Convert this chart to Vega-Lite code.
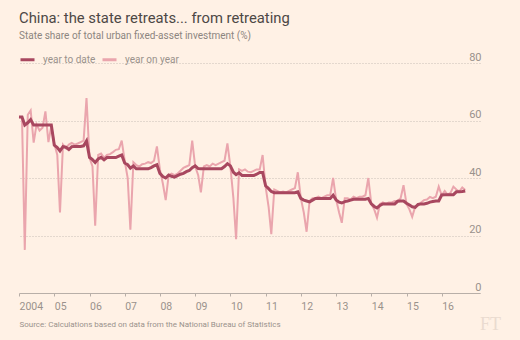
{
"$schema": "https://vega.github.io/schema/vega-lite/v6.json",
"autosize": "none",
"width": 461,
"height": 230,
"padding": {"left": 19, "top": 63, "right": 40, "bottom": 47},
"background": "#FFF1E5",
"config": {"view": {"stroke": null}, "font": "Roboto"},
"title": {"text": "China: the state retreats... from retreating", "subtitle": "State share of total urban fixed-asset investment (%)", "anchor": "start", "frame": "group", "font": "Roboto", "fontSize": 14.8, "fontWeight": "normal", "color": "#4d4845", "subtitleFont": "Roboto", "subtitleFontSize": 10, "subtitleColor": "#8c8580", "subtitlePadding": 5, "offset": 10},
"data": {"values": [
{"date":"2004-01-01","year to date":61.2,"year on year":61.2},
{"date":"2004-02-01","year to date":61.2,"year on year":61.0},
{"date":"2004-03-01","year to date":58.4,"year on year":15.0},
{"date":"2004-04-01","year to date":59.2,"year on year":62.0},
{"date":"2004-05-01","year to date":60.3,"year on year":63.5},
{"date":"2004-06-01","year to date":58.4,"year on year":52.3},
{"date":"2004-07-01","year to date":58.4,"year on year":58.6},
{"date":"2004-08-01","year to date":58.4,"year on year":56.5},
{"date":"2004-09-01","year to date":58.4,"year on year":57.5},
{"date":"2004-10-01","year to date":58.4,"year on year":63.2},
{"date":"2004-11-01","year to date":58.4,"year on year":52.5},
{"date":"2004-12-01","year to date":58.4,"year on year":58.0},
{"date":"2005-01-01","year to date":51.4,"year on year":52.0},
{"date":"2005-02-01","year to date":50.6,"year on year":48.0},
{"date":"2005-03-01","year to date":49.4,"year on year":28.0},
{"date":"2005-04-01","year to date":50.9,"year on year":51.6},
{"date":"2005-05-01","year to date":50.7,"year on year":50.4},
{"date":"2005-06-01","year to date":49.9,"year on year":51.6},
{"date":"2005-07-01","year to date":50.9,"year on year":52.2},
{"date":"2005-08-01","year to date":51.0,"year on year":51.6},
{"date":"2005-09-01","year to date":51.0,"year on year":52.0},
{"date":"2005-10-01","year to date":51.0,"year on year":52.5},
{"date":"2005-11-01","year to date":51.2,"year on year":53.0},
{"date":"2005-12-01","year to date":52.9,"year on year":67.8},
{"date":"2006-01-01","year to date":47.2,"year on year":47.0},
{"date":"2006-02-01","year to date":46.4,"year on year":44.0},
{"date":"2006-03-01","year to date":45.4,"year on year":23.4},
{"date":"2006-04-01","year to date":46.6,"year on year":48.0},
{"date":"2006-05-01","year to date":47.2,"year on year":48.5},
{"date":"2006-06-01","year to date":46.3,"year on year":47.0},
{"date":"2006-07-01","year to date":47.1,"year on year":48.0},
{"date":"2006-08-01","year to date":47.1,"year on year":48.3},
{"date":"2006-09-01","year to date":47.1,"year on year":49.0},
{"date":"2006-10-01","year to date":47.1,"year on year":49.8},
{"date":"2006-11-01","year to date":47.6,"year on year":50.0},
{"date":"2006-12-01","year to date":48.0,"year on year":53.0},
{"date":"2007-01-01","year to date":45.2,"year on year":46.0},
{"date":"2007-02-01","year to date":44.6,"year on year":40.0},
{"date":"2007-03-01","year to date":43.4,"year on year":22.0},
{"date":"2007-04-01","year to date":44.2,"year on year":45.5},
{"date":"2007-05-01","year to date":43.2,"year on year":44.5},
{"date":"2007-06-01","year to date":43.2,"year on year":44.0},
{"date":"2007-07-01","year to date":43.2,"year on year":44.8},
{"date":"2007-08-01","year to date":43.2,"year on year":45.0},
{"date":"2007-09-01","year to date":43.2,"year on year":45.5},
{"date":"2007-10-01","year to date":43.6,"year on year":45.2},
{"date":"2007-11-01","year to date":44.2,"year on year":46.0},
{"date":"2007-12-01","year to date":44.6,"year on year":51.0},
{"date":"2008-01-01","year to date":41.6,"year on year":43.0},
{"date":"2008-02-01","year to date":40.5,"year on year":38.0},
{"date":"2008-03-01","year to date":40.0,"year on year":32.3},
{"date":"2008-04-01","year to date":41.0,"year on year":41.0},
{"date":"2008-05-01","year to date":40.6,"year on year":41.5},
{"date":"2008-06-01","year to date":40.3,"year on year":41.0},
{"date":"2008-07-01","year to date":40.8,"year on year":41.5},
{"date":"2008-08-01","year to date":41.3,"year on year":42.5},
{"date":"2008-09-01","year to date":41.6,"year on year":43.5},
{"date":"2008-10-01","year to date":42.2,"year on year":44.0},
{"date":"2008-11-01","year to date":42.6,"year on year":44.5},
{"date":"2008-12-01","year to date":43.6,"year on year":53.0},
{"date":"2009-01-01","year to date":44.2,"year on year":44.0},
{"date":"2009-02-01","year to date":43.3,"year on year":41.0},
{"date":"2009-03-01","year to date":43.2,"year on year":35.0},
{"date":"2009-04-01","year to date":43.2,"year on year":44.0},
{"date":"2009-05-01","year to date":43.2,"year on year":44.5},
{"date":"2009-06-01","year to date":43.2,"year on year":44.0},
{"date":"2009-07-01","year to date":43.2,"year on year":45.0},
{"date":"2009-08-01","year to date":43.2,"year on year":44.5},
{"date":"2009-09-01","year to date":43.2,"year on year":45.0},
{"date":"2009-10-01","year to date":43.2,"year on year":45.5},
{"date":"2009-11-01","year to date":44.0,"year on year":46.0},
{"date":"2009-12-01","year to date":45.0,"year on year":52.0},
{"date":"2010-01-01","year to date":44.2,"year on year":44.0},
{"date":"2010-02-01","year to date":42.0,"year on year":33.0},
{"date":"2010-03-01","year to date":41.2,"year on year":18.7},
{"date":"2010-04-01","year to date":41.8,"year on year":43.0},
{"date":"2010-05-01","year to date":40.9,"year on year":42.5},
{"date":"2010-06-01","year to date":40.9,"year on year":43.0},
{"date":"2010-07-01","year to date":40.9,"year on year":42.2},
{"date":"2010-08-01","year to date":40.9,"year on year":42.0},
{"date":"2010-09-01","year to date":40.9,"year on year":42.5},
{"date":"2010-10-01","year to date":41.3,"year on year":43.0},
{"date":"2010-11-01","year to date":41.9,"year on year":43.0},
{"date":"2010-12-01","year to date":41.9,"year on year":48.0},
{"date":"2011-01-01","year to date":37.3,"year on year":37.0},
{"date":"2011-02-01","year to date":36.3,"year on year":30.0},
{"date":"2011-03-01","year to date":35.3,"year on year":20.5},
{"date":"2011-04-01","year to date":34.9,"year on year":36.0},
{"date":"2011-05-01","year to date":34.9,"year on year":35.5},
{"date":"2011-06-01","year to date":34.9,"year on year":35.0},
{"date":"2011-07-01","year to date":34.9,"year on year":35.3},
{"date":"2011-08-01","year to date":34.9,"year on year":35.0},
{"date":"2011-09-01","year to date":34.9,"year on year":35.5},
{"date":"2011-10-01","year to date":34.9,"year on year":36.0},
{"date":"2011-11-01","year to date":34.9,"year on year":36.5},
{"date":"2011-12-01","year to date":35.2,"year on year":42.0},
{"date":"2012-01-01","year to date":32.9,"year on year":33.0},
{"date":"2012-02-01","year to date":32.3,"year on year":28.0},
{"date":"2012-03-01","year to date":32.0,"year on year":21.3},
{"date":"2012-04-01","year to date":31.7,"year on year":32.0},
{"date":"2012-05-01","year to date":32.3,"year on year":33.0},
{"date":"2012-06-01","year to date":32.9,"year on year":33.0},
{"date":"2012-07-01","year to date":32.9,"year on year":33.5},
{"date":"2012-08-01","year to date":32.9,"year on year":33.0},
{"date":"2012-09-01","year to date":32.9,"year on year":33.5},
{"date":"2012-10-01","year to date":32.9,"year on year":34.0},
{"date":"2012-11-01","year to date":32.9,"year on year":34.0},
{"date":"2012-12-01","year to date":34.0,"year on year":40.0},
{"date":"2013-01-01","year to date":32.4,"year on year":32.5},
{"date":"2013-02-01","year to date":31.6,"year on year":28.0},
{"date":"2013-03-01","year to date":31.3,"year on year":24.4},
{"date":"2013-04-01","year to date":31.8,"year on year":33.0},
{"date":"2013-05-01","year to date":32.0,"year on year":33.0},
{"date":"2013-06-01","year to date":32.3,"year on year":32.5},
{"date":"2013-07-01","year to date":32.6,"year on year":33.5},
{"date":"2013-08-01","year to date":32.6,"year on year":33.0},
{"date":"2013-09-01","year to date":32.6,"year on year":33.5},
{"date":"2013-10-01","year to date":32.6,"year on year":33.5},
{"date":"2013-11-01","year to date":32.6,"year on year":34.0},
{"date":"2013-12-01","year to date":32.9,"year on year":40.0},
{"date":"2014-01-01","year to date":31.0,"year on year":31.0},
{"date":"2014-02-01","year to date":30.1,"year on year":29.0},
{"date":"2014-03-01","year to date":29.6,"year on year":26.2},
{"date":"2014-04-01","year to date":30.5,"year on year":31.0},
{"date":"2014-05-01","year to date":31.0,"year on year":31.5},
{"date":"2014-06-01","year to date":31.0,"year on year":31.0},
{"date":"2014-07-01","year to date":31.0,"year on year":31.5},
{"date":"2014-08-01","year to date":31.0,"year on year":31.5},
{"date":"2014-09-01","year to date":31.0,"year on year":32.0},
{"date":"2014-10-01","year to date":31.9,"year on year":32.0},
{"date":"2014-11-01","year to date":32.0,"year on year":33.0},
{"date":"2014-12-01","year to date":32.0,"year on year":37.5},
{"date":"2015-01-01","year to date":31.2,"year on year":31.0},
{"date":"2015-02-01","year to date":30.6,"year on year":29.0},
{"date":"2015-03-01","year to date":30.0,"year on year":26.5},
{"date":"2015-04-01","year to date":29.8,"year on year":30.0},
{"date":"2015-05-01","year to date":30.8,"year on year":30.5},
{"date":"2015-06-01","year to date":31.0,"year on year":31.5},
{"date":"2015-07-01","year to date":31.0,"year on year":32.3},
{"date":"2015-08-01","year to date":31.2,"year on year":32.5},
{"date":"2015-09-01","year to date":31.6,"year on year":33.4},
{"date":"2015-10-01","year to date":31.8,"year on year":33.0},
{"date":"2015-11-01","year to date":32.0,"year on year":33.5},
{"date":"2015-12-01","year to date":32.0,"year on year":37.0},
{"date":"2016-01-01","year to date":34.1,"year on year":34.0},
{"date":"2016-02-01","year to date":34.2,"year on year":35.5},
{"date":"2016-03-01","year to date":34.2,"year on year":34.2},
{"date":"2016-04-01","year to date":34.2,"year on year":34.8},
{"date":"2016-05-01","year to date":34.2,"year on year":37.0},
{"date":"2016-06-01","year to date":35.2,"year on year":36.0},
{"date":"2016-07-01","year to date":35.2,"year on year":35.3},
{"date":"2016-08-01","year to date":35.3,"year on year":36.7},
{"date":"2016-09-01","year to date":35.5,"year on year":35.8}
]},
"transform": [{"fold": ["year to date", "year on year"], "as": ["series", "value"]}],
"encoding": {
  "x": {"field": "date", "type": "temporal",
    "scale": {"type": "utc", "domain": [{"year": 2004, "month": 1, "date": 1, "utc": true}, {"year": 2017, "month": 2, "date": 1, "utc": true}]},
    "axis": {"values": [{"year":2004,"utc":true},{"year":2005,"utc":true},{"year":2006,"utc":true},{"year":2007,"utc":true},{"year":2008,"utc":true},{"year":2009,"utc":true},{"year":2010,"utc":true},{"year":2011,"utc":true},{"year":2012,"utc":true},{"year":2013,"utc":true},{"year":2014,"utc":true},{"year":2015,"utc":true},{"year":2016,"utc":true}],
      "labelExpr": "utcFormat(datum.value, '%Y') == '2004' ? '2004' : utcFormat(datum.value, '%y')",
      "labelAlign": "left", "labelPadding": 5, "labelFontSize": 10.5, "labelColor": "#9a928c", "labelFlush": false, "labelOverlap": false,
      "domainColor": "#b8afa8", "tickColor": "#b8afa8", "tickSize": 3, "grid": false,
      "title": "Source: Calculations based on data from the National Bureau of Statistics",
      "titleFontSize": 8, "titleFontWeight": "normal", "titleColor": "#9a928c", "titleAnchor": "start", "titleAlign": "left", "titleX": 0, "titleY": 31, "titleBaseline": "middle"}},
  "y": {"field": "value", "type": "quantitative",
    "scale": {"domain": [0, 80]},
    "axis": {"orient": "right", "values": [0, 20, 40, 60, 80], "domain": false, "ticks": false, "tickSize": 0,
      "labelAlign": "right", "labelBaseline": "alphabetic", "labelOffset": -3, "labelPadding": 1, "labelFontSize": 11, "labelColor": "#9a928c",
      "grid": true, "gridDash": [1, 2], "gridColor": "#c9bfb6", "gridWidth": 1,
      "title": "FT", "titleAngle": 0, "titleX": 10, "titleY": 261, "titleFont": "Liberation Serif", "titleFontSize": 18, "titleColor": "#eadbd0", "titleFontWeight": "normal", "titleAlign": "center", "titleBaseline": "middle"}},
  "color": {"field": "series", "type": "nominal",
    "scale": {"domain": ["year to date", "year on year"], "range": ["#a8475f", "#eaa5ad"]},
    "legend": {"orient": "none", "legendX": 0, "legendY": -12, "direction": "horizontal", "title": null, "symbolType": "stroke", "symbolStrokeWidth": 3, "symbolSize": 196, "labelFontSize": 10, "labelColor": "#9a928c", "labelOffset": 7, "columnPadding": 0}}
},
"layer": [
  {"transform": [{"filter": "datum.series == 'year on year'"}], "mark": {"type": "line", "strokeWidth": 2}},
  {"transform": [{"filter": "datum.series == 'year to date'"}], "mark": {"type": "line", "strokeWidth": 3}}
]
}
